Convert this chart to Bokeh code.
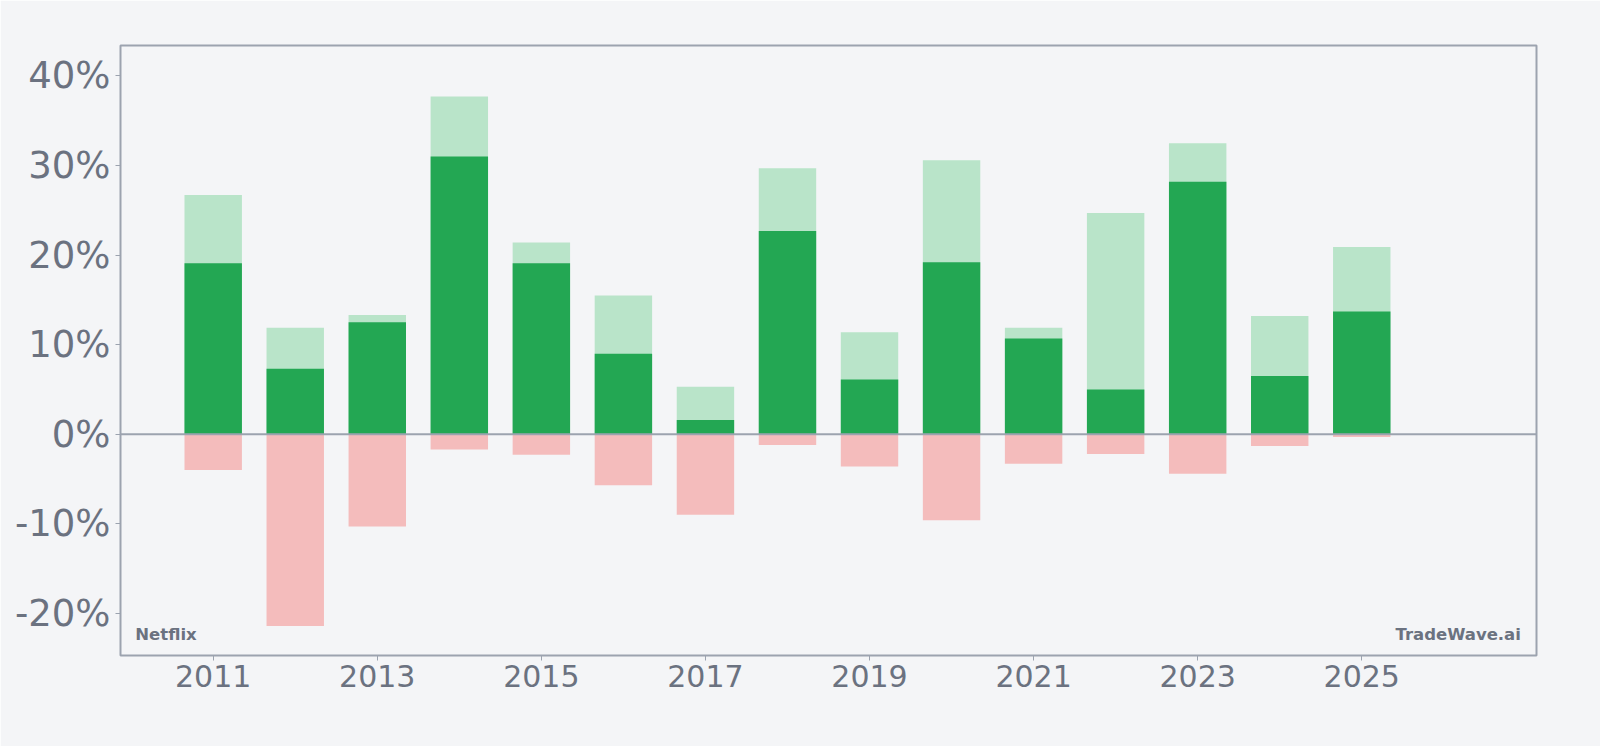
from bokeh.plotting import figure
from bokeh.models import FixedTicker, PrintfTickFormatter, Span, Label, Range1d
from bokeh.embed import file_html
from bokeh.resources import INLINE

# Netflix yearly return profile (percent)
years = [2011, 2012, 2013, 2014, 2015, 2016, 2017, 2018, 2019, 2020, 2021, 2022, 2023, 2024, 2025]
max_gain = [26.7, 11.9, 13.3, 37.7, 21.4, 15.5, 5.3, 29.7, 11.4, 30.6, 11.9, 24.7, 32.5, 13.2, 20.9]
year_return = [19.1, 7.3, 12.5, 31.0, 19.1, 9.0, 1.6, 22.7, 6.1, 19.2, 10.7, 5.0, 28.2, 6.5, 13.7]
max_drawdown = [-4.0, -21.4, -10.3, -1.7, -2.3, -5.7, -9.0, -1.2, -3.6, -9.6, -3.3, -2.2, -4.4, -1.3, -0.3]

y_ticks = [-20, -10, 0, 10, 20, 30, 40]
x_ticks = [2011, 2013, 2015, 2017, 2019, 2021, 2023, 2025]

BG = "#f4f5f7"
GRAY = "#9ca3af"
TEXT = "#6b7280"
FONT = "DejaVu Sans"

p = figure(
    width=1600, height=746,
    x_range=Range1d(2009.87, 2027.13),
    y_range=Range1d(-24.7, 43.4),
    output_backend="svg", toolbar_location=None,
    min_border_left=120, min_border_right=64,
    min_border_top=45, min_border_bottom=91,
    background_fill_color=BG, border_fill_color=BG,
)

bar_w = 0.7
p.vbar(x=years, top=max_gain, bottom=0, width=bar_w, fill_color="#b9e4c9", line_color=None)
p.vbar(x=years, top=year_return, bottom=0, width=bar_w, fill_color="#23a753", line_color=None)
p.vbar(x=years, top=0, bottom=max_drawdown, width=bar_w, fill_color="#f4bcbc", line_color=None)

p.add_layout(Span(location=0, dimension="width", line_color=GRAY, line_width=2))

p.grid.visible = False
p.outline_line_color = GRAY
p.outline_line_width = 2

p.yaxis.ticker = FixedTicker(ticks=y_ticks)
p.yaxis.formatter = PrintfTickFormatter(format="%d%%")
p.xaxis.ticker = FixedTicker(ticks=x_ticks)

for ax in (p.xaxis, p.yaxis):
    ax.axis_line_color = None
    ax.major_tick_line_color = GRAY
    ax.major_tick_in = 0
    ax.major_tick_out = 5
    ax.minor_tick_line_color = None
    ax.major_label_text_color = TEXT
    ax.major_label_text_font = FONT

p.yaxis.major_label_text_font_size = "37px"
p.yaxis.major_label_standoff = 5
p.xaxis.major_label_text_font_size = "30px"
p.xaxis.major_label_standoff = 4

p.add_layout(Label(x=2010.05, y=-22.3, text="Netflix", text_font=FONT,
                   text_font_style="bold", text_font_size="16.5px", text_color=TEXT,
                   text_baseline="alphabetic"))
p.add_layout(Label(x=2026.94, y=-22.3, text="TradeWave.ai", text_font=FONT,
                   text_font_style="bold", text_font_size="16.5px", text_color=TEXT,
                   text_align="right", text_baseline="alphabetic"))

open("out.html", "w").write(file_html(p, INLINE))
